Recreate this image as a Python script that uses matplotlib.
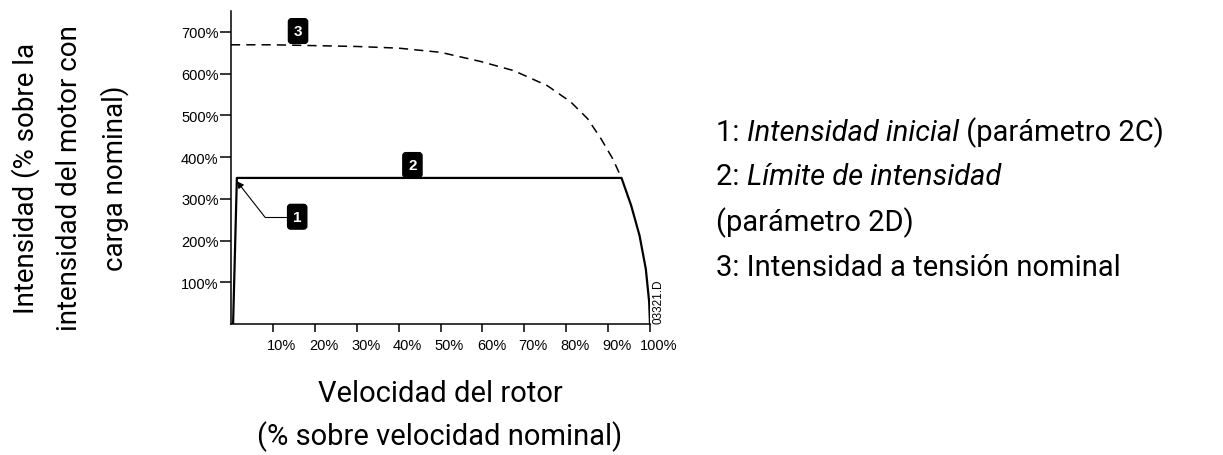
import matplotlib
matplotlib.use("Agg")
import matplotlib.pyplot as plt
import matplotlib.transforms as mtransforms

# rated-voltage current (dashed) and current-limit start (solid), % values
rated_speed = [0, 10, 20, 30, 40, 50, 59.6, 67.5, 75.5, 81.1, 85.1, 88.3, 91.1, 93.2]
rated_current = [669, 669, 667, 665, 661, 651, 629, 607, 571, 532, 492, 444, 396, 350]

start_speed = [0.5, 1.4, 93.2, 95.5, 97.5, 99.0, 99.8, 100]
start_current = [0, 350, 350, 284, 212, 132, 53, 0]

x_ticks = [10, 20, 30, 40, 50, 60, 70, 80, 90, 100]
y_ticks = [100, 200, 300, 400, 500, 600, 700]

legend_lines = [
    ("1: ", "Intensidad inicial", " (parámetro 2C)"),
    ("2: ", "Límite de intensidad", ""),
    ("(parámetro 2D)", "", ""),
    ("3: Intensidad a tensión nominal", "", ""),
]

sans = "Liberation Sans"
label_font = "Roboto"
fs = 21

fig = plt.figure(figsize=(12.23, 4.56), dpi=100)
ax = fig.add_axes([231 / 1223, 1 - 325 / 456, 419 / 1223, 313 / 456])

ax.plot(rated_speed, rated_current, color="black", lw=1.1, ls=(0, (6, 4)))
ax.plot(start_speed, start_current, color="black", lw=1.6)

ax.set_xlim(0, 100)
ax.set_ylim(0, 750)
for s in ["top", "right"]:
    ax.spines[s].set_visible(False)
for s in ["left", "bottom"]:
    ax.spines[s].set_linewidth(1.1)

ax.set_xticks(x_ticks)
ax.set_xticklabels([f"{v}%" for v in x_ticks], fontsize=10.5, family=sans)
ax.set_yticks(y_ticks)
ax.set_yticklabels([f"{v}%" for v in y_ticks], fontsize=10.5, family=sans)
ax.tick_params(axis="x", length=6, width=1.1, pad=4)
ax.tick_params(axis="y", length=8, width=1.1, pad=1)
shift = mtransforms.ScaledTranslation(9 / 100, 0, fig.dpi_scale_trans)
for lab in ax.get_xticklabels():
    lab.set_transform(lab.get_transform() + shift)

# numbered markers
box = dict(boxstyle="round,pad=0.35,rounding_size=0.2", fc="black", ec="black")
for num, (bx, by) in {"1": (15.8, 257), "2": (43.3, 381), "3": (16, 702)}.items():
    ax.text(bx, by, num, color="white", fontsize=11, fontweight="bold", family=sans,
            ha="center", va="center", bbox=box)

# leader for marker 1
ax.plot([13.4, 8.1], [256, 256], color="black", lw=0.8)
ax.annotate("", xy=(1.4, 342), xytext=(8.1, 256),
            arrowprops=dict(arrowstyle="-|>", color="black", lw=0.8,
                            mutation_scale=10, shrinkA=0, shrinkB=0))

ax.text(102, 2, "03321.D", rotation=90, fontsize=8.5, family=sans,
        ha="center", va="bottom")

# axis titles
fig.text(70 / 1223, 1 - 178 / 456,
         "Intensidad (% sobre la\nintensidad del motor con\ncarga nominal)",
         rotation=90, ha="center", va="center", multialignment="center",
         fontsize=20, family=label_font, linespacing=1.75)
fig.text(440 / 1223, 1 - 416 / 456,
         "Velocidad del rotor\n(% sobre velocidad nominal)",
         ha="center", va="center", multialignment="center",
         fontsize=fs, family=label_font, linespacing=1.55)

# legend text on the right
ys = [133, 177, 223, 268]
for (a, b, c), y in zip(legend_lines, ys):
    t = fig.text(716 / 1223, 1 - y / 456, a, fontsize=fs, family=label_font,
                 ha="left", va="center")
    if b:
        t2 = ax.annotate(b, xycoords=t, xy=(1, 0.5), va="center", ha="left",
                         fontsize=fs, family=label_font, style="italic")
        if c:
            ax.annotate(c, xycoords=t2, xy=(1, 0.5), va="center", ha="left",
                        fontsize=fs, family=label_font)

fig.savefig("out.png", dpi=100)
